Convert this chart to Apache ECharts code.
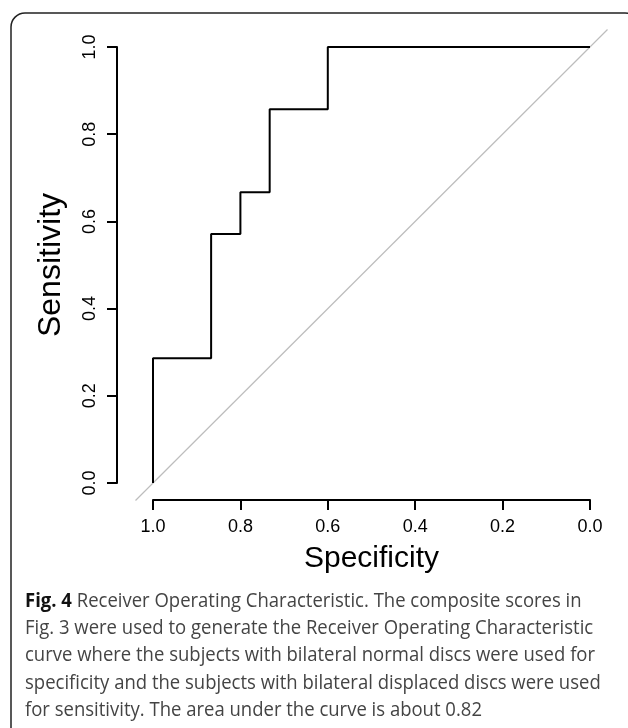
<!DOCTYPE html>
<html>
<head>
<meta charset="utf-8">
<script src="https://cdn.jsdelivr.net/npm/echarts@6/dist/echarts.min.js"></script>
<style>
  html, body { margin: 0; padding: 0; background: #fff; }
  #chart { width: 628px; height: 728px; }
</style>
</head>
<body>
<div id="chart"></div>
<script>
// ROC curve corner points
var specificity = [1.0, 1.0, 0.867, 0.867, 0.8, 0.8, 0.733, 0.733, 0.6, 0.6, 0.0];
var sensitivity = [0.0, 0.286, 0.286, 0.571, 0.571, 0.667, 0.667, 0.857, 0.857, 1.0, 1.0];
// chance line, spans the whole plot region (R extends range by 4%)
var diagSpec = [1.04, -0.04];
var diagSens = [-0.04, 1.04];
var tickLabels = ['0.0', '0.2', '0.4', '0.6', '0.8', '1.0'];
var captionLines = [
    "{b|Fig. 4} Receiver Operating Characteristic. The composite scores in",
    "Fig. 3 were used to generate the Receiver Operating Characteristic",
    "curve where the subjects with bilateral normal discs were used for",
    "specificity and the subjects with bilateral displaced discs were used",
    "for sensitivity. The area under the curve is about 0.82"
];

var axisFont = "'Liberation Sans', Arial, sans-serif";
var capFont = "'Open Sans', 'Noto Sans', sans-serif";

function pairs(xs, ys){
    var out = [];
    for (var i = 0; i < xs.length; i++) out.push([xs[i], ys[i]]);
    return out;
}
function fmt(v){
    return tickLabels[Math.round(v * 5)] || '';
}

var chart = echarts.init(document.getElementById('chart'));

var graphics = [{
    type: 'rect',
    shape: { x: 11, y: 13, width: 628, height: 730, r: 14 },
    style: { fill: 'none', stroke: '#222', lineWidth: 1.5 },
    silent: true
}];
for (var i = 0; i < captionLines.length; i++) {
    graphics.push({
        type: 'text',
        x: 25,
        y: 601 + i * 27.3,
        scaleX: 0.925,
        style: {
            text: captionLines[i],
            font: '20px ' + capFont,
            fill: '#444',
            verticalAlign: 'middle',
            rich: {
                b: { fontWeight: 'bold', fontSize: 20, fontFamily: capFont, fill: '#111' }
            }
        }
    });
}

// hidden axes of the whole R plot region (data range padded by 4%)
var regionAxis = { type: 'value', min: -0.04, max: 1.04, show: false };

option = {
    animation: false,
    backgroundColor: '#fff',
    grid: [
        { left: 153, right: 38, top: 47, bottom: 245 },
        { left: 135.5, right: 20.5, top: 29.5, bottom: 227.5 }
    ],
    xAxis: [{
        type: 'value',
        inverse: true,
        min: 0, max: 1, interval: 0.2,
        offset: 17,
        name: 'Specificity',
        nameLocation: 'middle',
        nameGap: 44,
        nameTextStyle: { fontFamily: axisFont, fontSize: 30, color: '#000' },
        axisLine: { onZero: false, lineStyle: { color: '#000', width: 2 } },
        axisTick: { inside: false, length: 10, lineStyle: { color: '#000', width: 2 } },
        axisLabel: { margin: 18, fontFamily: axisFont, fontSize: 18, color: '#000', formatter: fmt },
        splitLine: { show: false }
    }, Object.assign({ gridIndex: 1, inverse: true }, regionAxis)],
    yAxis: [{
        type: 'value',
        min: 0, max: 1, interval: 0.2,
        offset: 36,
        name: 'Sensitivity',
        nameLocation: 'middle',
        nameGap: 50,
        nameTextStyle: { fontFamily: axisFont, fontSize: 32, color: '#000' },
        axisLine: { show: true, onZero: false, lineStyle: { color: '#000', width: 2 } },
        axisTick: { show: true, inside: false, length: 10, lineStyle: { color: '#000', width: 2 } },
        axisLabel: { margin: 18, rotate: 90, fontFamily: axisFont, fontSize: 18, color: '#000', formatter: fmt },
        splitLine: { show: false }
    }, Object.assign({ gridIndex: 1 }, regionAxis)],
    series: [
        {
            type: 'line',
            xAxisIndex: 1,
            yAxisIndex: 1,
            data: pairs(diagSpec, diagSens),
            symbol: 'none',
            lineStyle: { color: '#bdbdbd', width: 1.2 },
            z: 1
        },
        {
            type: 'line',
            data: pairs(specificity, sensitivity),
            symbol: 'none',
            clip: false,
            lineStyle: { color: '#000', width: 2 },
            z: 2
        }
    ],
    graphic: graphics
};
chart.setOption(option);
</script>
</body>
</html>
